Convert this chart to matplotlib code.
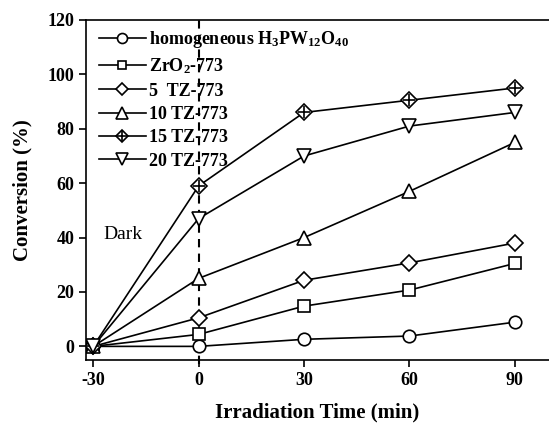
import matplotlib
matplotlib.use("Agg")
import matplotlib.pyplot as plt
from matplotlib.legend_handler import HandlerTuple

plt.rcParams["font.family"] = ["Liberation Serif", "DejaVu Serif"]
plt.rcParams["font.weight"] = "bold"
plt.rcParams["axes.unicode_minus"] = False
plt.rcParams["mathtext.fontset"] = "custom"
plt.rcParams["mathtext.rm"] = "Liberation Serif:bold"
plt.rcParams["mathtext.it"] = "Liberation Serif:bold"
plt.rcParams["mathtext.bf"] = "Liberation Serif:bold"

# 辐照时间 (min) 与各样品转化率 (%)
time = [-30, 0, 30, 60, 90]
homo = [0, 0, 2.6, 3.8, 8.9]
zro2 = [0, 4.4, 14.8, 20.7, 30.5]
tz5 = [0, 10.5, 24.3, 30.7, 38.0]
tz10 = [0, 25.0, 40.0, 57.0, 75.0]
tz15 = [0, 59.0, 86.0, 90.5, 95.0]
tz20 = [0, 47.0, 70.0, 81.0, 86.0]

labels = [r"homogeneous H$_3$PW$_{12}$O$_{40}$", r"ZrO$_2$-773", "5  TZ-773",
          "10 TZ-773", "15 TZ-773", "20 TZ-773"]

fig = plt.figure(figsize=(5.49, 4.25), dpi=100)
ax = fig.add_axes([0.157, 0.153, 0.843, 0.8])

base = dict(color="black", lw=1.2, mfc="white", mec="black", mew=1.2)
h1, = ax.plot(time, homo, marker="o", ms=9, **base)
h2, = ax.plot(time, zro2, marker="s", ms=8, **base)
h3, = ax.plot(time, tz5, marker="D", ms=8, **base)
h4, = ax.plot(time, tz10, marker="^", ms=10, **base)
h5, = ax.plot(time, tz15, marker="D", ms=8, **base)
h5b, = ax.plot(time, tz15, marker="+", ms=9, mew=1.2, color="black", ls="none")
h6, = ax.plot(time, tz20, marker="v", ms=10, **base)

# 暗反应分界线
ax.plot([0, 0], [-6.5, 121.5], ls=(0, (4, 3)), color="black", lw=1.5, clip_on=False, zorder=1)
ax.text(-27, 41, "Dark", fontsize=14, fontweight="normal", ha="left", va="center")

ax.set_xlim(-32, 99.7)
ax.set_ylim(-5, 120)
ax.set_xticks(time)
ax.set_yticks([0, 20, 40, 60, 80, 100, 120])
ax.tick_params(direction="out", labelsize=13, width=1.2, length=5)
for lab in ax.get_xticklabels() + ax.get_yticklabels():
    lab.set_fontweight("bold")
ax.spines["right"].set_visible(False)
for s in ["left", "bottom", "top"]:
    ax.spines[s].set_linewidth(1.2)

ax.set_xlabel("Irradiation Time (min)", fontsize=15, fontweight="bold", labelpad=10)
ax.set_ylabel("Conversion (%)", fontsize=15, fontweight="bold", labelpad=11)

ax.legend([h1, h2, h3, h4, (h5, h5b), h6], labels,
          handler_map={tuple: HandlerTuple(ndivide=1, pad=0)},
          loc="upper left", bbox_to_anchor=(0.0, 1.01), frameon=False,
          fontsize=13, handlelength=2.6, handletextpad=0.2, labelspacing=0.35,
          borderaxespad=0.3, markerscale=0.8)

fig.savefig("out.png", dpi=100)
